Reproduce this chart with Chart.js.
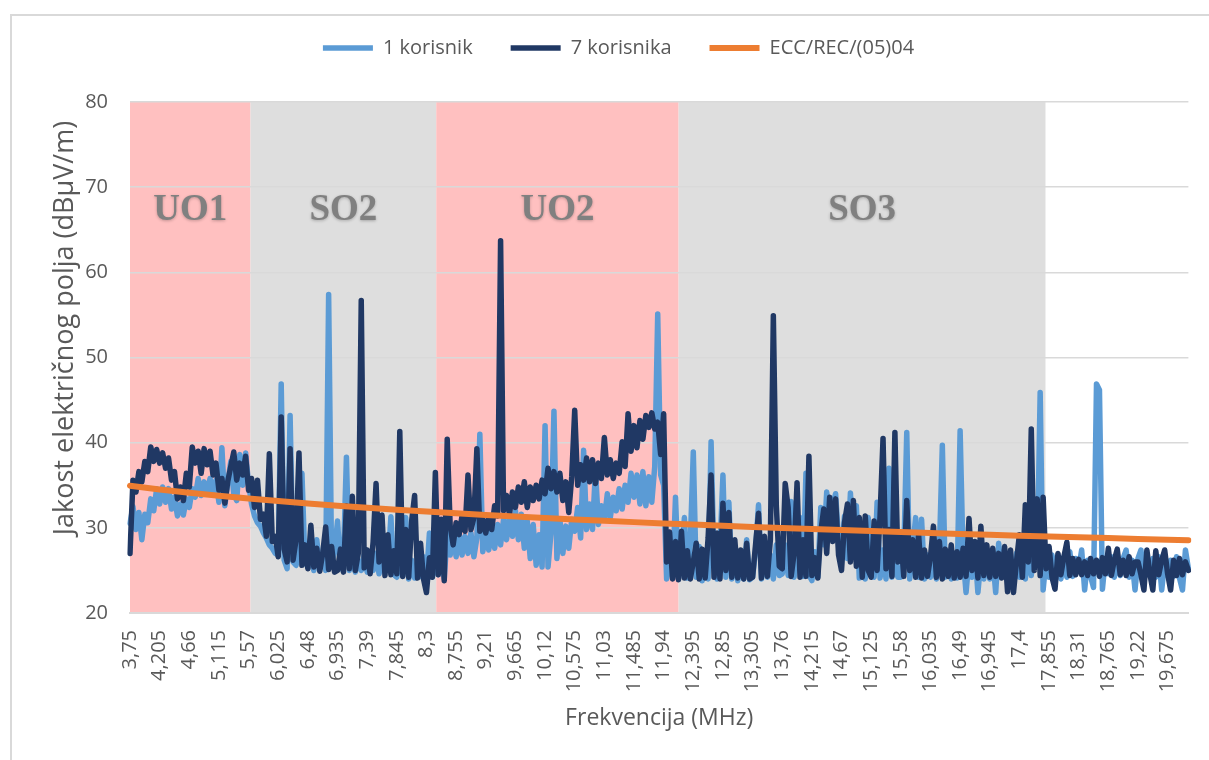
<!DOCTYPE html>
<html>
<head>
<meta charset="utf-8">
<script src="https://cdn.jsdelivr.net/npm/chart.js@4.4.1/dist/chart.umd.min.js"></script>
<style>
  html, body { margin: 0; padding: 0; background: #fff; overflow: hidden; }
  #frame { position: absolute; left: 10px; top: 14px; width: 1300px; height: 800px; border: 2px solid #d9d9d9; box-sizing: border-box; }
  #wrap { position: absolute; left: 0; top: 0; width: 1209px; height: 760px; }
</style>
</head>
<body>
<div id="frame"></div>
<div id="wrap"><canvas id="myChart"></canvas></div>
<script>
  // sweep: 3,75 MHz upwards, one sample every 0,0455 MHz
  const freqStart = 3.75;
  const freqStep = 0.0455;

  const tickLabels = ['3,75', '4,205', '4,66', '5,115', '5,57', '6,025', '6,48', '6,935', '7,39', '7,845',
    '8,3', '8,755', '9,21', '9,665', '10,12', '10,575', '11,03', '11,485', '11,94', '12,395',
    '12,85', '13,305', '13,76', '14,215', '14,67', '15,125', '15,58', '16,035', '16,49', '16,945',
    '17,4', '17,855', '18,31', '18,765', '19,22', '19,675'];

  // zones along the band (MHz)
  const bandNames = ['UO1', 'SO2', 'UO2', 'SO3'];
  const bandFrom = [3.75, 5.6, 8.45, 12.17];
  const bandTo = [5.6, 8.45, 12.17, 17.8];

  // field strength, dBuV/m
  const oneUser = [
    30.5, 32.5, 29.8, 31.8, 28.6, 31.6, 30.6, 33.4, 32, 34.6,
    32.8, 34.8, 33, 34.6, 32.2, 33.6, 31.4, 32.8, 31.5, 33.4,
    32.4, 34.6, 33.6, 35.8, 33.8, 35.4, 34, 35.8, 34.2, 35.6,
    33, 39.4, 32.6, 35.4, 37.8, 34, 33.2, 38.6, 35, 38.8,
    35.2, 32.8, 31.4, 30.6, 30.2, 29.4, 28.8, 28, 27.6, 27,
    26.8, 46.9, 26.2, 25.2, 43.2, 26, 25.6, 27, 36.4, 26,
    25.4, 27, 25, 28.6, 25.2, 26.8, 25, 57.4, 25.8, 27.2,
    30.8, 25.2, 26.4, 38.3, 25, 27.2, 24.8, 26.2, 25, 26.8,
    24.8, 26.4, 25, 27, 24.6, 26.2, 24.8, 25.6, 31.3, 24.5,
    24.2, 26, 24.4, 31.2, 24, 26.2, 24.1, 25.8, 24.3, 26.6,
    24, 29.4, 24.2, 26, 24.5, 27.6, 24, 29.4, 26.8, 29.6,
    26.6, 29.4, 26.8, 29, 27, 29.4, 26.6, 28.8, 41, 27.2,
    29.6, 27.4, 30.2, 27.6, 30.4, 28, 31, 28.6, 31.2, 29,
    32, 28.6, 31.6, 27.6, 30.8, 26.4, 30.4, 25.6, 29.2, 25.4,
    42, 25.4, 29.4, 43.7, 26.4, 31, 27, 30.2, 27.6, 31,
    29.6, 32.4, 28.8, 39.1, 29.8, 32.8, 29.8, 36.8, 30.4, 32.6,
    31, 34, 31.2, 33.6, 32, 34.6, 32.2, 35, 33, 36.4,
    33.6, 36.2, 32.8, 36.6, 32.6, 36, 33, 37.2, 55.1, 36.2,
    35, 24, 27.6, 24.2, 33.6, 24, 26.4, 31.2, 24.1, 28.4,
    38.9, 24.2, 27.8, 23.8, 27.2, 24, 40.1, 26, 24, 27.6,
    36.2, 24.2, 33, 24, 27.8, 23.8, 26.6, 24, 28.6, 23.9,
    24.2, 27.4, 32.7, 24, 27, 24.2, 26.8, 24, 28, 24.4,
    24.6, 28, 24.4, 33.1, 24.2, 27.2, 31.2, 24.3, 36.4, 24.5,
    23.8, 27.2, 24.2, 32.4, 28, 34.2, 29, 32.6, 34, 28.6,
    27, 31.4, 26.4, 34.1, 27.2, 32.6, 24.1, 30.2, 24, 31.2,
    26.2, 24.2, 33, 24.1, 27.4, 24, 37, 24.2, 27.6, 24.2,
    24.2, 27, 41.2, 24, 27.6, 31.2, 24.2, 31, 24, 26.8,
    24.2, 26.8, 24, 27.2, 39.7, 24.2, 26.6, 24, 27, 24.1,
    41.4, 26.6, 22.4, 26.4, 24.2, 27.4, 22.4, 26.2, 24, 27.2,
    24, 26.4, 22.4, 28.2, 24.2, 26.6, 24, 26.2, 24.2, 27,
    24.2, 27, 24, 28.6, 24.4, 33, 26, 45.9, 22.7, 26.4,
    24.2, 26.8, 24.4, 26.2, 24, 26.6, 24.2, 27.2, 24.3, 26.4,
    25.2, 27.4, 22.7, 26.2, 24.3, 23, 46.9, 46.2, 22.8, 26.4,
    24.6, 26.6, 24.2, 26, 24.4, 26.4, 27.4, 24.2, 26.2, 22.7,
    26.4, 27.4, 24.2, 26.2, 24.4, 26.4, 24.2, 26.6, 22.7, 26,
    24.4, 26.2, 24.3, 26.6, 24.1, 22.7, 27.4, 25.2
  ];

  const sevenUsers = [
    27, 35.6, 34.2, 36.6, 35.4, 37.8, 36.6, 39.5, 37.8, 39.2,
    37.6, 38.8, 37, 38.2, 35.6, 36.6, 33.4, 34.8, 33.2, 36.4,
    34.8, 39.5, 37.6, 39, 36.4, 39.3, 37.4, 39, 36.2, 37.6,
    34.4, 35.8, 32.9, 35.5, 37.2, 38.9, 35.6, 37.6, 36.2, 38.4,
    34.4, 35.8, 32.4, 35.6, 31, 31.6, 29, 38.7, 28.4, 29,
    26.6, 43, 27.5, 26, 39.3, 26.2, 28.6, 38.8, 25.6, 28,
    25.2, 30.3, 25.4, 27.6, 24.9, 27, 30.1, 25.1, 27.8, 24.8,
    25, 27.5, 24.8, 32.6, 25.2, 33.7, 25, 27, 56.7, 25.3,
    27.4, 24.6, 28.3, 35.2, 26, 31.5, 24.4, 29.2, 24.5, 27.3,
    24.6, 41.3, 24.3, 29.8, 24.2, 30.8, 33.8, 24.1, 28.2, 24,
    22.4, 26.5, 24.2, 36.5, 24.5, 31, 23.8, 40.4, 30.2, 28,
    30.6, 29.2, 31.4, 29.6, 36.2, 29.8, 31.2, 39.3, 29.6, 31,
    29.4, 31.2, 29.8, 32.6, 31.4, 63.7, 32, 33.8, 31.6, 34.2,
    32.4, 34.8, 33, 35.4, 32.4, 34.8, 33.2, 35, 33.4, 35.6,
    34, 37, 34.6, 36.6, 34.2, 36.4, 33.2, 35.4, 31.8, 36,
    43.8, 35, 37.4, 35.6, 38.2, 35.4, 38, 35.2, 37.6, 35.8,
    40.6, 36.2, 38, 35.8, 37.6, 36.4, 40.1, 37.2, 43.4, 39,
    42, 39.4, 42.6, 40.4, 43.2, 41.8, 43.5, 41.6, 42.4, 38.6,
    43.4, 26, 29.5, 24, 28.4, 23.9, 29.6, 24.1, 27.3, 24,
    26, 28.2, 24, 27.5, 24.1, 28.8, 36.2, 24.2, 29.4, 24,
    32.9, 25, 31.8, 24.2, 28.6, 24.1, 27.4, 24, 28.2, 24,
    24.2, 28, 31.7, 24.1, 29, 24.3, 28.6, 54.9, 32.6, 25.5,
    25.2, 35.2, 32.4, 24.3, 27, 35.3, 24.2, 28.6, 24.3, 38.4,
    24.4, 26.5, 24.1, 29.5, 32.2, 27, 33.6, 28.4, 33.4, 26.8,
    25, 30.6, 32.8, 26, 33.2, 25.5, 31.2, 24.2, 31.4, 25,
    24.2, 30.8, 25, 31.4, 40.5, 25.2, 29.8, 24.3, 41.2, 26,
    29, 24.3, 33.2, 25, 28.6, 24.2, 29.2, 24.1, 27.4, 24.3,
    26.6, 30.2, 24.2, 28.4, 24, 27.5, 24.3, 28, 24.1, 27.2,
    24.2, 27.6, 24.3, 31.1, 25, 28.4, 24.1, 30.2, 24.4, 28,
    24.2, 27.6, 24.3, 27, 24.1, 27.8, 22.5, 27.4, 22.4, 26,
    29.2, 24.2, 32.7, 26, 41.6, 25, 33.4, 24.4, 33.6, 25.2,
    27.8, 24.2, 22.8, 27, 24.5, 26.6, 28.3, 24.4, 26.4, 24.5,
    26.3, 24.5, 26, 24.4, 26.4, 24.6, 26.2, 24.3, 26.5, 24.6,
    27.6, 24.4, 26.2, 27.5, 24.5, 26.2, 24.4, 26.6, 24.6, 26,
    26, 24.5, 22.7, 27.4, 24.6, 22.7, 27.3, 24.5, 26.2, 27.4,
    24.6, 22.7, 26.2, 24.4, 26.4, 24.5, 26, 25
  ];

  // ECC/REC/(05)04 limit at each labelled frequency, plus the last sample
  const eccAtTicks = [34.95, 34.51, 34.12, 33.76, 33.44, 33.14, 32.86, 32.60, 32.36, 32.13,
    31.91, 31.71, 31.51, 31.33, 31.15, 30.99, 30.83, 30.67, 30.52, 30.38,
    30.24, 30.11, 29.98, 29.86, 29.74, 29.62, 29.50, 29.39, 29.29, 29.18,
    29.08, 28.98, 28.89, 28.80, 28.70, 28.61];
  const eccEnd = 28.55;

  const freqs = oneUser.map((_, i) => +(freqStart + i * freqStep).toFixed(4));
  const lastIdx = freqs.length - 1;
  const eccLine = freqs.map((_, i) => i % 10 === 0 ? eccAtTicks[i / 10] : (i === lastIdx ? eccEnd : null));

  const yTitle = 'Jakost električnog polja (dBµV/m)';
  const grey = '#595959';

  Chart.defaults.font.family = "'Open Sans', sans-serif";
  Chart.defaults.color = grey;

  // shaded zones behind the plot, with their names
  const zones = {
    id: 'zones',
    beforeDraw(chart) {
      const {ctx, chartArea: a, scales: {x}} = chart;
      const px = f => x.getPixelForValue((f - freqStart) / freqStep);
      ctx.save();
      bandNames.forEach((name, k) => {
        const l = Math.max(px(bandFrom[k]), a.left);
        const r = px(bandTo[k]);
        ctx.fillStyle = name[0] === 'U' ? '#ffc0c0' : '#dedede';
        ctx.fillRect(l, a.top, r - l, a.bottom - a.top);
      });
      ctx.restore();
    },
    beforeDatasetsDraw(chart) {
      const {ctx, chartArea: a, scales: {x, y}} = chart;
      const px = f => x.getPixelForValue((f - freqStart) / freqStep);
      ctx.save();
      ctx.font = "bold 37px 'Liberation Serif', serif";
      ctx.fillStyle = '#808080';
      ctx.textAlign = 'center';
      ctx.textBaseline = 'middle';
      ctx.shadowColor = 'rgba(0,0,0,0.25)';
      ctx.shadowBlur = 3;
      ctx.shadowOffsetY = 1;
      bandNames.forEach((name, k) => {
        const l = Math.max(px(bandFrom[k]), a.left);
        const r = px(bandTo[k]);
        ctx.fillText(name, (l + r) / 2, y.getPixelForValue(67.3));
      });
      ctx.restore();
    },
    afterDraw(chart) {
      const ctx = chart.ctx;
      ctx.save();
      ctx.translate(65, 328);
      ctx.rotate(-Math.PI / 2);
      ctx.font = "27px 'Open Sans', sans-serif";
      ctx.fillStyle = grey;
      ctx.textAlign = 'center';
      ctx.textBaseline = 'middle';
      ctx.fillText(yTitle, 0, 0);
      ctx.restore();
    }
  };

  // legend sits higher and a bit right of the default spot
  const legendSpot = {
    id: 'legendSpot',
    afterLayout(chart) {
      const lg = chart.legend;
      const dy = 48 - (lg.top + 38 + 10);
      lg.top += dy;
      lg.bottom += dy;
      lg.left += 18;
      lg.right += 18;
    }
  };

  const data = {
    labels: freqs,
    datasets: [
      {
        label: '1 korisnik',
        data: oneUser,
        borderColor: '#5b9bd5',
        backgroundColor: '#5b9bd5',
        borderWidth: 5.5,
        pointRadius: 0,
        borderCapStyle: 'round',
        borderJoinStyle: 'round',
        order: 3
      },
      {
        label: '7 korisnika',
        data: sevenUsers,
        borderColor: '#203864',
        backgroundColor: '#203864',
        borderWidth: 5.5,
        pointRadius: 0,
        borderCapStyle: 'round',
        borderJoinStyle: 'round',
        order: 2
      },
      {
        label: 'ECC/REC/(05)04',
        data: eccLine,
        borderColor: '#ed7d31',
        backgroundColor: '#ed7d31',
        borderWidth: 6,
        pointRadius: 0,
        spanGaps: true,
        borderCapStyle: 'round',
        order: 1
      }
    ]
  };

  const config = {
    type: 'line',
    data: data,
    plugins: [zones, legendSpot],
    options: {
      responsive: true,
      maintainAspectRatio: false,
      animation: false,
      devicePixelRatio: 1,
      layout: { padding: { top: 34, left: 10, right: 18, bottom: 0 } },
      plugins: {
        tooltip: { enabled: false },
        legend: {
          position: 'top',
          labels: {
            usePointStyle: true,
            pointStyle: 'line',
            pointStyleWidth: 50,
            padding: 38,
            font: { size: 20 },
            color: grey,
            sort: (a, b) => a.datasetIndex - b.datasetIndex
          }
        }
      },
      scales: {
        x: {
          type: 'category',
          offset: false,
          grid: { display: false, drawTicks: false },
          border: { display: true, color: '#d9d9d9', width: 2 },
          ticks: {
            autoSkip: false,
            minRotation: 90,
            maxRotation: 90,
            padding: 17,
            font: { size: 20 },
            color: grey,
            callback: (v, i) => i % 10 === 0 ? tickLabels[i / 10] : null
          },
          title: {
            display: true,
            text: 'Frekvencija (MHz)',
            font: { size: 23 },
            color: grey,
            padding: { top: 0, bottom: 28 }
          },
          afterFit: s => { s.height = 147; }
        },
        y: {
          min: 20,
          max: 80,
          grid: { color: '#d9d9d9', lineWidth: 1.5, drawTicks: false },
          border: { display: false },
          ticks: { stepSize: 10, padding: 22, font: { size: 20 }, color: grey },
          afterFit: s => { s.width = 120; }
        }
      }
    }
  };

  const myChart = new Chart(document.getElementById('myChart'), config);
</script>
</body>
</html>
